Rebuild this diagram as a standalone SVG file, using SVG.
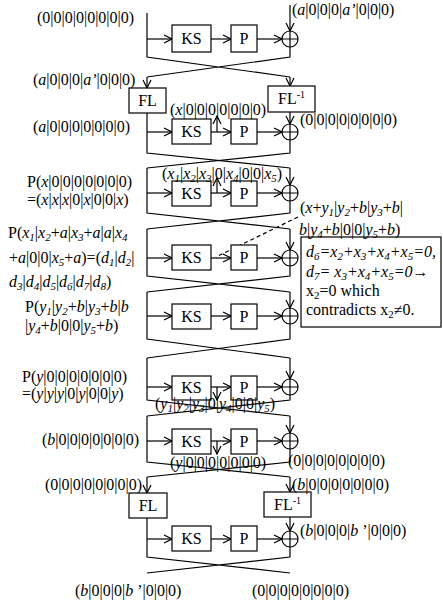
<svg xmlns="http://www.w3.org/2000/svg" width="443" height="604" viewBox="0 0 443 604">
<style>
text{font-family:"Liberation Serif","Times New Roman",serif;font-size:16px;fill:#000}
.i{font-style:italic}
.s{font-size:11px;baseline-shift:-3px}
.sup{font-size:10px;baseline-shift:6px}
.b{fill:#fff;stroke:#000;stroke-width:1.2}
.l{fill:none;stroke:#000;stroke-width:1.2}
.a{fill:none;stroke:#000;stroke-width:1.2;marker-end:url(#ah)}
.c{text-anchor:middle}
</style>
<defs>
<marker id="ah" markerWidth="10" markerHeight="10" refX="9" refY="5" orient="auto" markerUnits="userSpaceOnUse"><path d="M1,1 L9,5 L1,9" fill="none" stroke="#000" stroke-width="1.2"/></marker>
</defs>
<rect width="443" height="604" fill="#fff"/>
<g id="connectors">
<!-- R1 -->
<path class="l" d="M147,13 V57 L290,77 M290,47 V57 L147,77"/>
<path class="a" d="M147,39 H172"/><path class="a" d="M211,39 H231"/><path class="a" d="M257,39 H282"/>
<path class="a" d="M290,5 V31"/>
<path class="a" d="M147,77 V88"/><path class="a" d="M290,77 V86"/>
<!-- R2 -->
<path class="l" d="M147,113 V153 L290,168 M290,140 V153 L147,168"/>
<path class="a" d="M147,132 H172"/><path class="a" d="M211,132 H231"/><path class="a" d="M257,132 H282"/>
<path class="a" d="M290,112 V124"/><path class="a" d="M217,132 V116"/>
<!-- R3 -->
<path class="l" d="M147,168 V213 L290,229 M290,201 V213 L147,229"/>
<path class="a" d="M147,193 H172"/><path class="a" d="M211,193 H231"/><path class="a" d="M257,193 H282"/>
<path class="a" d="M290,168 V185"/><path class="a" d="M217,193 V178"/>
<!-- R4 -->
<path class="l" d="M147,229 V276 L290,292 M290,266 V276 L147,292"/>
<path class="a" d="M147,258 H172"/><path class="a" d="M211,258 H231"/><path class="a" d="M257,258 H282"/>
<path class="a" d="M290,229 V250"/>
<path class="l" d="M298,217 L216,257" stroke-dasharray="4,3"/>
<!-- R5 -->
<path class="l" d="M147,292 V339 L290,358 M290,324 V339 L147,358"/>
<path class="a" d="M147,316 H172"/><path class="a" d="M211,316 H231"/><path class="a" d="M257,316 H282"/>
<path class="a" d="M290,292 V308"/>
<!-- R6 -->
<path class="l" d="M147,358 V400 L290,416 M290,395 V400 L147,416"/>
<path class="a" d="M147,387 H172"/><path class="a" d="M211,387 H231"/><path class="a" d="M257,387 H282"/>
<path class="a" d="M290,358 V379"/><path class="a" d="M217,387 V400"/>
<!-- R7 -->
<path class="l" d="M147,416 V462 L290,477 M290,449 V462 L147,477"/>
<path class="a" d="M147,441 H172"/><path class="a" d="M211,441 H231"/><path class="a" d="M257,441 H282"/>
<path class="a" d="M290,416 V433"/><path class="a" d="M217,441 V454"/>
<path class="a" d="M147,477 V493"/><path class="a" d="M290,477 V492"/>
<!-- R8 -->
<path class="l" d="M147,518 V557 L290,573 M290,547 V557 L147,573"/>
<path class="a" d="M147,539 H172"/><path class="a" d="M211,539 H231"/><path class="a" d="M257,539 H282"/>
<path class="a" d="M290,517 V531"/>
</g>
<g id="FL1"><rect class="b" x="129" y="88" width="37" height="25"/><text class="c" x="147.5" y="106">FL</text></g>
<g id="FLi1"><rect class="b" x="268" y="86" width="47" height="26"/><text class="c" x="291.5" y="104">FL<tspan class="sup">-1</tspan></text></g>
<g id="FL2"><rect class="b" x="129" y="493" width="38" height="25"/><text class="c" x="148" y="511">FL</text></g>
<g id="FLi2"><rect class="b" x="264" y="492" width="47" height="25"/><text class="c" x="287.5" y="510">FL<tspan class="sup">-1</tspan></text></g>
<g id="KS1"><rect class="b" x="172" y="25" width="39" height="27"/><text class="c" x="191.5" y="44">KS</text></g>
<g id="P1"><rect class="b" x="231" y="25" width="26" height="27"/><text class="c" x="244" y="44">P</text></g>
<g id="X1"><circle class="b" cx="290" cy="39" r="8"/><path class="l" d="M282,39 H298 M290,31 V47"/></g>
<g id="KS2"><rect class="b" x="172" y="119" width="39" height="25"/><text class="c" x="191.5" y="137">KS</text></g>
<g id="P2"><rect class="b" x="231" y="119" width="26" height="25"/><text class="c" x="244" y="137">P</text></g>
<g id="X2"><circle class="b" cx="290" cy="132" r="8"/><path class="l" d="M282,132 H298 M290,124 V140"/></g>
<g id="KS3"><rect class="b" x="172" y="181" width="39" height="25"/><text class="c" x="191.5" y="199">KS</text></g>
<g id="P3"><rect class="b" x="231" y="181" width="26" height="25"/><text class="c" x="244" y="199">P</text></g>
<g id="X3"><circle class="b" cx="290" cy="193" r="8"/><path class="l" d="M282,193 H298 M290,185 V201"/></g>
<g id="KS4"><rect class="b" x="172" y="245" width="39" height="25"/><text class="c" x="191.5" y="263">KS</text></g>
<g id="P4"><rect class="b" x="231" y="245" width="26" height="25"/><text class="c" x="244" y="263">P</text></g>
<g id="X4"><circle class="b" cx="290" cy="258" r="8"/><path class="l" d="M282,258 H298 M290,250 V266"/></g>
<g id="KS5"><rect class="b" x="172" y="304" width="39" height="25"/><text class="c" x="191.5" y="322">KS</text></g>
<g id="P5"><rect class="b" x="231" y="304" width="26" height="25"/><text class="c" x="244" y="322">P</text></g>
<g id="X5"><circle class="b" cx="290" cy="316" r="8"/><path class="l" d="M282,316 H298 M290,308 V324"/></g>
<g id="KS6"><rect class="b" x="172" y="376" width="39" height="24"/><text class="c" x="191.5" y="393">KS</text></g>
<g id="P6"><rect class="b" x="231" y="376" width="26" height="24"/><text class="c" x="244" y="393">P</text></g>
<g id="X6"><circle class="b" cx="290" cy="387" r="8"/><path class="l" d="M282,387 H298 M290,379 V395"/></g>
<g id="KS7"><rect class="b" x="172" y="429" width="39" height="25"/><text class="c" x="191.5" y="447">KS</text></g>
<g id="P7"><rect class="b" x="231" y="429" width="26" height="25"/><text class="c" x="244" y="447">P</text></g>
<g id="X7"><circle class="b" cx="290" cy="441" r="8"/><path class="l" d="M282,441 H298 M290,433 V449"/></g>
<g id="KS8"><rect class="b" x="172" y="526" width="39" height="25"/><text class="c" x="191.5" y="544">KS</text></g>
<g id="P8"><rect class="b" x="231" y="526" width="26" height="25"/><text class="c" x="244" y="544">P</text></g>
<g id="X8"><circle class="b" cx="290" cy="539" r="8"/><path class="l" d="M282,539 H298 M290,531 V547"/></g>
<g id="note"><rect class="b" x="301" y="237" width="140" height="90"/>
<text x="306" y="257" class="i">d<tspan class="s">6</tspan>=x<tspan class="s">2</tspan>+x<tspan class="s">3</tspan>+x<tspan class="s">4</tspan>+x<tspan class="s">5</tspan>=0,</text>
<text x="306" y="277" class="i">d<tspan class="s">7</tspan>= x<tspan class="s">3</tspan>+x<tspan class="s">4</tspan>+x<tspan class="s">5</tspan>=0→</text>
<text x="306" y="296">x<tspan class="s">2</tspan>=0 which</text>
<text x="306" y="315">contradicts x<tspan class="s">2</tspan>≠0.</text>
</g>
<g id="labels">
<text x="37" y="23">(0|0|0|0|0|0|0|0)</text>
<text x="292" y="15">(<tspan class="i">a</tspan>|0|0|0|<tspan class="i">a’</tspan>|0|0|0)</text>
<text x="33" y="85">(<tspan class="i">a</tspan>|0|0|0|<tspan class="i">a’</tspan>|0|0|0)</text>
<text x="170" y="115">(<tspan class="i">x</tspan>|0|0|0|0|0|0|0)</text>
<text x="33" y="132">(<tspan class="i">a</tspan>|0|0|0|0|0|0|0)</text>
<text x="300" y="125">(0|0|0|0|0|0|0|0)</text>
<text x="27" y="187">P(<tspan class="i">x</tspan>|0|0|0|0|0|0|0)</text>
<text x="27" y="205">=(<tspan class="i">x</tspan>|<tspan class="i">x</tspan>|<tspan class="i">x</tspan>|0|<tspan class="i">x</tspan>|0|0|<tspan class="i">x</tspan>)</text>
<text x="162" y="179">(<tspan class="i">x<tspan class="s">1</tspan></tspan>|<tspan class="i">x<tspan class="s">2</tspan></tspan>|<tspan class="i">x<tspan class="s">3</tspan></tspan>|0|<tspan class="i">x<tspan class="s">4</tspan></tspan>|0|0|<tspan class="i">x<tspan class="s">5</tspan></tspan>)</text>
<text x="300" y="213">(<tspan class="i">x</tspan>+<tspan class="i">y<tspan class="s">1</tspan></tspan>|<tspan class="i">y<tspan class="s">2</tspan></tspan>+<tspan class="i">b</tspan>|<tspan class="i">y<tspan class="s">3</tspan></tspan>+<tspan class="i">b</tspan>|</text>
<text x="299" y="235"><tspan class="i">b</tspan>|<tspan class="i">y<tspan class="s">4</tspan></tspan>+<tspan class="i">b</tspan>|0|0|<tspan class="i">y<tspan class="s">5</tspan></tspan>+<tspan class="i">b</tspan>)</text>
<text x="8" y="238">P(<tspan class="i">x<tspan class="s">1</tspan></tspan>|<tspan class="i">x<tspan class="s">2</tspan></tspan>+<tspan class="i">a</tspan>|<tspan class="i">x<tspan class="s">3</tspan></tspan>+<tspan class="i">a</tspan>|<tspan class="i">a</tspan>|<tspan class="i">x<tspan class="s">4</tspan></tspan></text>
<text x="9" y="263">+<tspan class="i">a</tspan>|0|0|<tspan class="i">x<tspan class="s">5</tspan></tspan>+<tspan class="i">a</tspan>)=(<tspan class="i">d<tspan class="s">1</tspan></tspan>|<tspan class="i">d<tspan class="s">2</tspan></tspan>|</text>
<text x="9" y="287"><tspan class="i">d<tspan class="s">3</tspan></tspan>|<tspan class="i">d<tspan class="s">4</tspan></tspan>|<tspan class="i">d<tspan class="s">5</tspan></tspan>|<tspan class="i">d<tspan class="s">6</tspan></tspan>|<tspan class="i">d<tspan class="s">7</tspan></tspan>|<tspan class="i">d<tspan class="s">8</tspan></tspan>)</text>
<text x="25" y="312">P(<tspan class="i">y<tspan class="s">1</tspan></tspan>|<tspan class="i">y<tspan class="s">2</tspan></tspan>+<tspan class="i">b</tspan>|<tspan class="i">y<tspan class="s">3</tspan></tspan>+<tspan class="i">b</tspan>|<tspan class="i">b</tspan></text>
<text x="25" y="331">|<tspan class="i">y<tspan class="s">4</tspan></tspan>+<tspan class="i">b</tspan>|0|0|<tspan class="i">y<tspan class="s">5</tspan></tspan>+<tspan class="i">b</tspan>)</text>
<text x="22" y="382">P(<tspan class="i">y</tspan>|0|0|0|0|0|0|0)</text>
<text x="22" y="399">=(<tspan class="i">y</tspan>|<tspan class="i">y</tspan>|<tspan class="i">y</tspan>|0|<tspan class="i">y</tspan>|0|0|<tspan class="i">y</tspan>)</text>
<text x="155" y="409">(<tspan class="i">y<tspan class="s">1</tspan></tspan>|<tspan class="i">y<tspan class="s">2</tspan></tspan>|<tspan class="i">y<tspan class="s">3</tspan></tspan>|0|<tspan class="i">y<tspan class="s">4</tspan></tspan>|0|0|<tspan class="i">y<tspan class="s">5</tspan></tspan>)</text>
<text x="42" y="445">(<tspan class="i">b</tspan>|0|0|0|0|0|0|0)</text>
<text x="170" y="468">(<tspan class="i">y</tspan>|0|0|0|0|0|0|0)</text>
<text x="288" y="466">(0|0|0|0|0|0|0|0)</text>
<text x="45" y="490">(0|0|0|0|0|0|0|0)</text>
<text x="292" y="490">(<tspan class="i">b</tspan>|0|0|0|0|0|0|0)</text>
<text x="300" y="536">(<tspan class="i">b</tspan>|0|0|0|<tspan class="i">b</tspan> ’|0|0|0)</text>
<text x="75" y="596">(<tspan class="i">b</tspan>|0|0|0|<tspan class="i">b</tspan> ’|0|0|0)</text>
<text x="252" y="596">(0|0|0|0|0|0|0|0)</text>
</g>
</svg>
